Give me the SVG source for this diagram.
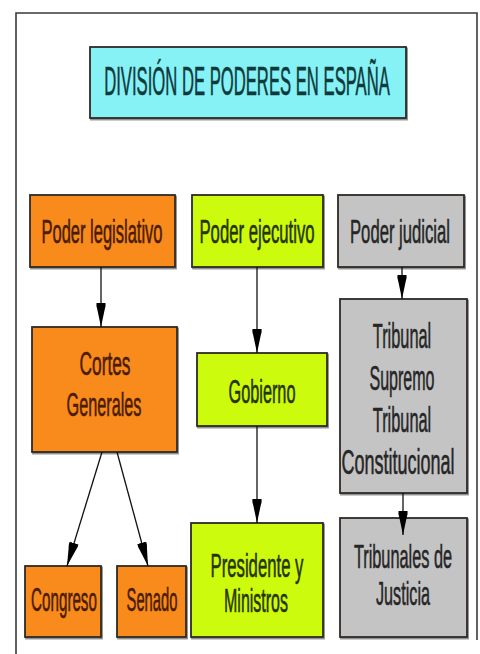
<svg xmlns="http://www.w3.org/2000/svg" width="480" height="654" viewBox="0 0 480 654">
<defs>
<style>
.box{stroke:#2e2a26;stroke-width:1.8;filter:url(#sh)}
.or{fill:#f98a1c}
.li{fill:#ccfb0a}
.gr{fill:#c4c4c4}
.cy{fill:#86f2f6}
text{font-family:"Liberation Sans",Arial,sans-serif;text-anchor:middle;stroke-width:0.6}
.t-or{fill:#4a1c04;stroke:#4a1c04}
.t-li{fill:#263400;stroke:#263400}
.t-gr{fill:#262626;stroke:#262626}
.t-cy{fill:#0f3a3c;stroke:#0f3a3c}
.con{stroke:#111;stroke-width:1.3;fill:none;marker-end:url(#arr)}
</style>
<filter id="sh" x="-5%" y="-5%" width="115%" height="115%">
<feDropShadow dx="1" dy="1.5" stdDeviation="0.6" flood-color="#000" flood-opacity="0.45"/>
</filter>
<marker id="arr" viewBox="0 0 24 10" refX="24" refY="5" markerWidth="24" markerHeight="10" markerUnits="userSpaceOnUse" orient="auto">
<path d="M0,0.5 Q3,0 6,1.2 L24,5 L6,8.8 Q3,10 0,9.5 Z" fill="#000"/>
</marker>
</defs>
<rect width="480" height="654" fill="#fff"/>
<path d="M16,654 V13 H477 V640" fill="none" stroke="#3a3a3a" stroke-width="1.6"/>

<g id="title">
<rect class="box cy" x="90" y="47" width="316" height="71"/>
<text class="t-cy" font-size="41" transform="translate(247,95) scale(0.4065,1)">DIVISIÓN DE PODERES EN ESPAÑA</text>
</g>

<g id="poder-legislativo">
<rect class="box or" x="30" y="195" width="145" height="72"/>
<text class="t-or" font-size="33" transform="translate(102,243) scale(0.5,1)">Poder legislativo</text>
</g>
<g id="poder-ejecutivo">
<rect class="box li" x="192" y="195" width="131" height="72"/>
<text class="t-li" font-size="33" transform="translate(257,243) scale(0.506,1)">Poder ejecutivo</text>
</g>
<g id="poder-judicial">
<rect class="box gr" x="338" y="195" width="126" height="72"/>
<text class="t-gr" font-size="33" transform="translate(400,243) scale(0.505,1)">Poder judicial</text>
</g>

<g id="cortes-generales">
<rect class="box or" x="32" y="327" width="145" height="125"/>
<text class="t-or" font-size="34" transform="translate(105,375) scale(0.509,1)">Cortes</text>
<text class="t-or" font-size="34" transform="translate(104,416) scale(0.478,1)">Generales</text>
</g>
<g id="gobierno">
<rect class="box li" x="197" y="353" width="130" height="73"/>
<text class="t-li" font-size="34" transform="translate(262,403) scale(0.479,1)">Gobierno</text>
</g>
<g id="tribunal-supremo-constitucional">
<rect class="box gr" x="340" y="299" width="127" height="194"/>
<text class="t-gr" font-size="35" transform="translate(402,348) scale(0.467,1)">Tribunal</text>
<text class="t-gr" font-size="35" transform="translate(402,390) scale(0.458,1)">Supremo</text>
<text class="t-gr" font-size="35" transform="translate(402,432) scale(0.467,1)">Tribunal</text>
<text class="t-gr" font-size="35" transform="translate(398,474) scale(0.514,1)">Constitucional</text>
</g>

<g id="congreso">
<rect class="box or" x="25" y="566" width="76" height="71"/>
<text class="t-or" font-size="33" transform="translate(64,611) scale(0.46,1)">Congreso</text>
</g>
<g id="senado">
<rect class="box or" x="117" y="566" width="69" height="71"/>
<text class="t-or" font-size="33" transform="translate(152,611) scale(0.448,1)">Senado</text>
</g>
<g id="presidente-ministros">
<rect class="box li" x="191" y="523" width="132" height="114"/>
<text class="t-li" font-size="34" transform="translate(257,577) scale(0.492,1)">Presidente y</text>
<text class="t-li" font-size="34" transform="translate(256,612) scale(0.47,1)">Ministros</text>
</g>
<g id="tribunales-justicia">
<rect class="box gr" x="340" y="518" width="127" height="119"/>
<text class="t-gr" font-size="34" transform="translate(403,568) scale(0.48,1)">Tribunales de</text>
<text class="t-gr" font-size="34" transform="translate(403,605) scale(0.476,1)">Justicia</text>
</g>

<g id="connectors">
<path class="con" d="M101,267 V327"/>
<path class="con" d="M257,267 V353"/>
<path class="con" d="M402,267 V299"/>
<path class="con" d="M102,452 L67,566"/>
<path class="con" d="M117,452 L148,566"/>
<path class="con" d="M257,426 V523"/>
<path class="con" d="M403,493 V535"/>
</g>
</svg>
